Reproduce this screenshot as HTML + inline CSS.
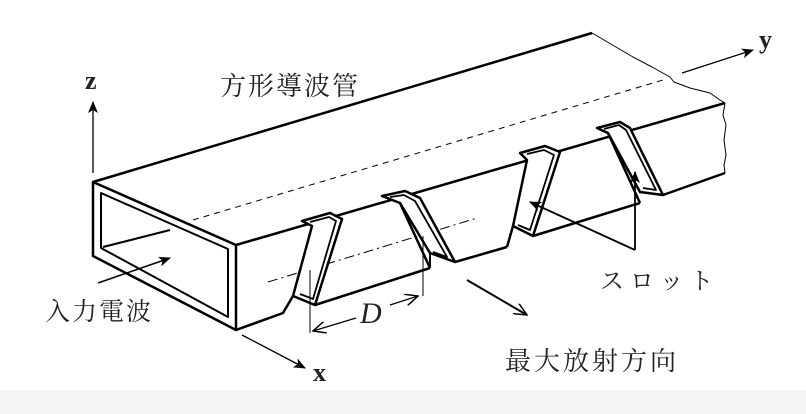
<!DOCTYPE html>
<html><head><meta charset="utf-8"><style>
html,body{margin:0;padding:0;background:#fff}
body{width:806px;height:414px;overflow:hidden;position:relative}
.t{position:absolute;font-family:"Liberation Serif","Noto Serif CJK SC","Noto Sans CJK JP",serif;color:#222;white-space:nowrap;line-height:1}
</style></head><body>
<div style="position:absolute;left:0;top:390px;width:806px;height:24px;background:#f4f4f4"></div>
<svg width="806" height="414" style="position:absolute;left:0;top:0">
<defs>
<marker id="ah" markerWidth="12" markerHeight="10" refX="11" refY="5" orient="auto" markerUnits="userSpaceOnUse">
<path d="M0,0 L12,5 L0,10 L3,5 Z" fill="#000"/></marker>
<marker id="ao" markerWidth="14" markerHeight="12" refX="13" refY="6" orient="auto" markerUnits="userSpaceOnUse">
<path d="M0,0 L13,6 L0,12" fill="none" stroke="#000" stroke-width="1.5"/></marker>
</defs>
<g fill="none" stroke="#000" stroke-linejoin="round">
<line x1="93" y1="182" x2="592" y2="33" stroke-width="2.5"/>
<line x1="236" y1="245" x2="725" y2="103" stroke-width="2.5"/>
<polyline points="592,33 604,40 633,57 652,67 670,77 674,82 690,88 710,93 720,100 725,103" stroke-width="1"/>
<polyline points="725,103 723,115 726,125 724,140 726,155 724,165 725,173" stroke-width="1"/>
<line x1="193" y1="220" x2="663" y2="80" stroke-width="1" stroke-dasharray="6,5"/>
<line x1="268" y1="282" x2="477" y2="218" stroke-width="1" stroke-dasharray="10,4,2,4"/>
<polygon points="93,182 236,245 236,330 93,256" stroke-width="2.5" fill="#fff"/>
<polygon points="101,193 228,249 228,317 101,248" stroke-width="2"/>
<line x1="103" y1="247" x2="170" y2="230" stroke-width="2"/>
<polyline points="236,330 283,313 293,296" stroke-width="2.5"/>
<line x1="315" y1="305" x2="430" y2="268" stroke-width="2.5"/>
<line x1="455" y1="262" x2="507" y2="247" stroke-width="2.5"/>
<line x1="507" y1="247" x2="513" y2="226" stroke-width="2.5"/>
<line x1="533" y1="236" x2="640" y2="203" stroke-width="2.5"/>
<line x1="663" y1="195" x2="725" y2="173" stroke-width="2.5"/>
<polygon points="302,221 330,213 342,219 315,305 293,296 312,226" stroke-width="2.5" fill="#fff"/>
<polyline points="310,222 329,217 336,221 313,299 300,294" stroke-width="1.8"/>
<polygon points="382,196 405,191 420,198 455,262 430,253 400,203" stroke-width="2.5" fill="#fff"/>
<polyline points="390,197 404,195 415,201 447,257 433,252" stroke-width="1.8"/>
<line x1="400" y1="203" x2="430" y2="268" stroke-width="2.5"/>
<line x1="430" y1="268" x2="430" y2="253" stroke-width="2"/>
<polygon points="520,153 545,146 560,152 533,236 513,226 527,160" stroke-width="2.5" fill="#fff"/>
<polyline points="527,154 544,150 554,155 530,230 518,225" stroke-width="1.8"/>
<polygon points="597,128 620,122 630,128 663,195 640,192 608,133" stroke-width="2.5" fill="#fff"/>
<polyline points="604,129 619,125 626,130 656,190 643,188" stroke-width="1.8"/>
<line x1="608" y1="133" x2="640" y2="203" stroke-width="2.5"/>
<line x1="310" y1="270" x2="310" y2="333" stroke-width="1"/>
<line x1="423" y1="236" x2="423" y2="296" stroke-width="1"/>
<line x1="356" y1="318" x2="313" y2="331" stroke-width="1.2" marker-end="url(#ao)"/>
<line x1="390" y1="305" x2="418" y2="296" stroke-width="1.2" marker-end="url(#ao)"/>
<line x1="93" y1="173" x2="93" y2="102" stroke-width="1.3" marker-end="url(#ah)"/>
<line x1="242" y1="335" x2="305" y2="368" stroke-width="1.3" marker-end="url(#ah)"/>
<line x1="682" y1="73" x2="753" y2="50" stroke-width="1.3" marker-end="url(#ah)"/>
<line x1="98" y1="283" x2="170" y2="258" stroke-width="1.5" marker-end="url(#ah)"/>
<line x1="467" y1="280" x2="527" y2="315" stroke-width="2" marker-end="url(#ao)"/>
<line x1="635" y1="250" x2="635" y2="172" stroke-width="1.8" marker-end="url(#ah)"/>
<line x1="635" y1="250" x2="530" y2="202" stroke-width="1.8" marker-end="url(#ah)"/>
</g>
</svg>
<div class="t" style="left:85px;top:68px;font-size:26px;font-weight:bold">z</div>
<div class="t" style="left:313px;top:360px;font-size:26px;font-weight:bold">x</div>
<div class="t" style="left:759px;top:27px;font-size:26px;font-weight:bold">y</div>
<div class="t" style="left:360px;top:299px;font-size:30px;font-style:italic">D</div>
<div class="t" style="left:220px;top:74px;font-size:26px;letter-spacing:2px">方形導波管</div>
<div class="t" style="left:45px;top:300px;font-size:25px;letter-spacing:2px">入力電波</div>
<div class="t" style="left:600px;top:270px;font-size:24px;letter-spacing:6px">スロット</div>
<div class="t" style="left:505px;top:349px;font-size:26px;letter-spacing:3px">最大放射方向</div>
</body></html>
